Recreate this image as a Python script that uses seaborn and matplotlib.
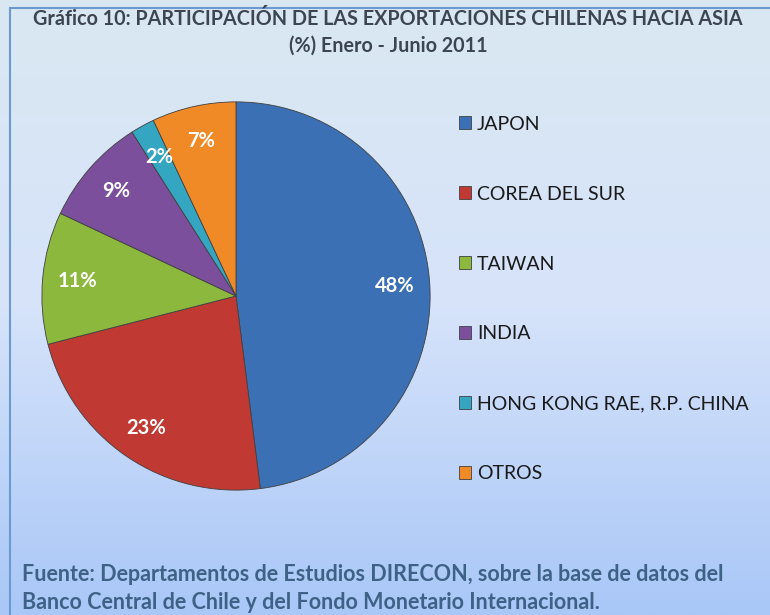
import matplotlib.pyplot as plt
import matplotlib.patches as mpatches
import numpy as np
import seaborn as sns

# Data
paises = ['JAPON', 'COREA DEL SUR', 'TAIWAN', 'INDIA', 'HONG KONG RAE, R.P. CHINA', 'OTROS']
participacion = [48, 23, 11, 9, 2, 7]
colores = ['#3C70B4', '#C03A33', '#8DB83E', '#7B4F9C', '#35A6C2', '#EF8A26']

titulo = 'Gráfico 10: PARTICIPACIÓN DE LAS EXPORTACIONES CHILENAS HACIA ASIA\n(%) Enero - Junio 2011'
fuente = ('Fuente: Departamentos de Estudios DIRECON, sobre la base de datos del\n'
          'Banco Central de Chile y del Fondo Monetario Internacional.')

sns.set_theme(style='white')
plt.rcParams['font.family'] = ['Lato', 'DejaVu Sans']

fig = plt.figure(figsize=(7.7, 6.15), dpi=100)

# background gradient
bg = fig.add_axes([0, 0, 1, 1], zorder=-10)
grad = np.linspace(0, 1, 256).reshape(-1, 1)
cmap = sns.blend_palette(['#DAE8F2', '#D6E3FA', '#A9C7F7'], as_cmap=True)
bg.imshow(grad, aspect='auto', cmap=cmap, extent=[0, 1, 0, 1], origin='upper')
bg.set_xlim(0, 1)
bg.set_ylim(0, 1)
bg.axis('off')
fig.add_artist(mpatches.Rectangle((10 / 770, -0.01), 1.0, 1 - 8 / 615 + 0.01,
                                  transform=fig.transFigure, fill=False,
                                  edgecolor='#6A9AD0', linewidth=1.5))

# pie
ax = fig.add_axes([38 / 770, 121 / 615, 396 / 770, 396 / 615])
wedges, texts, autotexts = ax.pie(
    participacion, colors=colores, startangle=90, counterclock=False,
    autopct='%d%%', pctdistance=0.82, radius=1,
    wedgeprops=dict(edgecolor='#404040', linewidth=0.6),
    textprops=dict(color='white', fontsize=14.5, fontweight='bold'))
ax.set_xlim(-1.02, 1.02)
ax.set_ylim(-1.02, 1.02)
ax.set_aspect('equal')
ax.axis('off')

fig.legend(wedges, paises, loc='upper left', bbox_to_anchor=(449 / 770, 1 - 106 / 615),
           frameon=False, fontsize=14, labelspacing=2.72, handlelength=0.65,
           handleheight=0.65, handletextpad=0.3, borderpad=0, labelcolor='#1A1A1A')

fig.text(0.504, 1 - 32.5 / 615, titulo, ha='center', va='center', fontsize=14.2,
         fontweight='bold', color='#3C4550', linespacing=1.45)
fig.text(22 / 770, 1 - 588.5 / 615, fuente, ha='left', va='center', fontsize=15.5,
         fontweight='bold', color='#3E6285', linespacing=1.4)

fig.savefig('out.png', dpi=100)
